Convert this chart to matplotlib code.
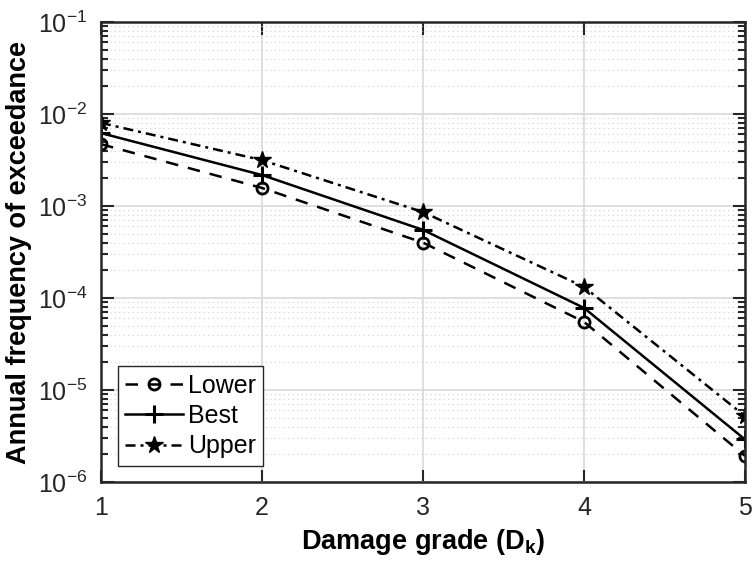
import numpy as np
import matplotlib.pyplot as plt
from matplotlib.ticker import LogLocator, NullFormatter

plt.rcParams['font.family'] = ['Liberation Sans', 'DejaVu Sans']
plt.rcParams['mathtext.fontset'] = 'custom'
plt.rcParams['mathtext.rm'] = 'Liberation Sans'
plt.rcParams['mathtext.bf'] = 'Liberation Sans:bold'

grade = [1, 2, 3, 4, 5]
lower = [4.7e-3, 1.57e-3, 4.0e-4, 5.5e-5, 1.92e-6]
best = [6.2e-3, 2.17e-3, 5.5e-4, 7.8e-5, 2.9e-6]
upper = [8.0e-3, 3.15e-3, 8.6e-4, 1.32e-4, 5.2e-6]

fig = plt.figure(figsize=(7.53, 5.63), dpi=100)
ax = fig.add_axes([101/753, 1-482/563, 644/753, 460/563])

ax.semilogy(grade, lower, 'k--', marker='o', mfc='none', mew=2, ms=8, lw=1.8,
            dashes=(5, 4), label='Lower')
ax.semilogy(grade, best, 'k-', marker='+', mew=2.2, ms=13, lw=1.8, label='Best')
ax.semilogy(grade, upper, 'k-.', marker='*', ms=13, lw=1.8,
            dashes=(4, 2, 1.2, 2), label='Upper')

ax.set_xlim(1, 5)
ax.set_ylim(1e-6, 1e-1)
ax.set_xticks(grade)
ax.yaxis.set_major_locator(LogLocator(base=10, numticks=10))
ax.yaxis.set_minor_locator(LogLocator(base=10, subs=np.arange(2, 10), numticks=10))
ax.yaxis.set_minor_formatter(NullFormatter())

ax.grid(True, which='major', color='#d9d9d9', lw=1.2)
ax.grid(True, which='minor', axis='y', color='#cfcfcf', ls=(0, (1, 3)), lw=0.8)
ax.set_axisbelow(True)

ax.tick_params(which='both', direction='in', top=True, right=True, colors='#262626',
               labelsize=18, width=1.5)
ax.tick_params(which='major', length=9, pad=10)
ax.tick_params(which='minor', length=5)
for s in ax.spines.values():
    s.set_linewidth(1.8)
    s.set_color('#262626')

ax.set_xlabel(r'Damage grade (D$_{\mathbf{k}}$)', fontsize=19.5, fontweight='bold', labelpad=5)
ax.set_ylabel('Annual frequency of exceedance', fontsize=19.5, fontweight='bold', labelpad=4)

leg = ax.legend(loc='lower left', bbox_to_anchor=(0.026, 0.035), fontsize=18,
                fancybox=False, edgecolor='#262626', framealpha=1,
                handlelength=2.3, handletextpad=0.2, borderpad=0.3,
                labelspacing=0.25, borderaxespad=0)
leg.get_frame().set_linewidth(1.0)

plt.savefig('out.png', dpi=100)
